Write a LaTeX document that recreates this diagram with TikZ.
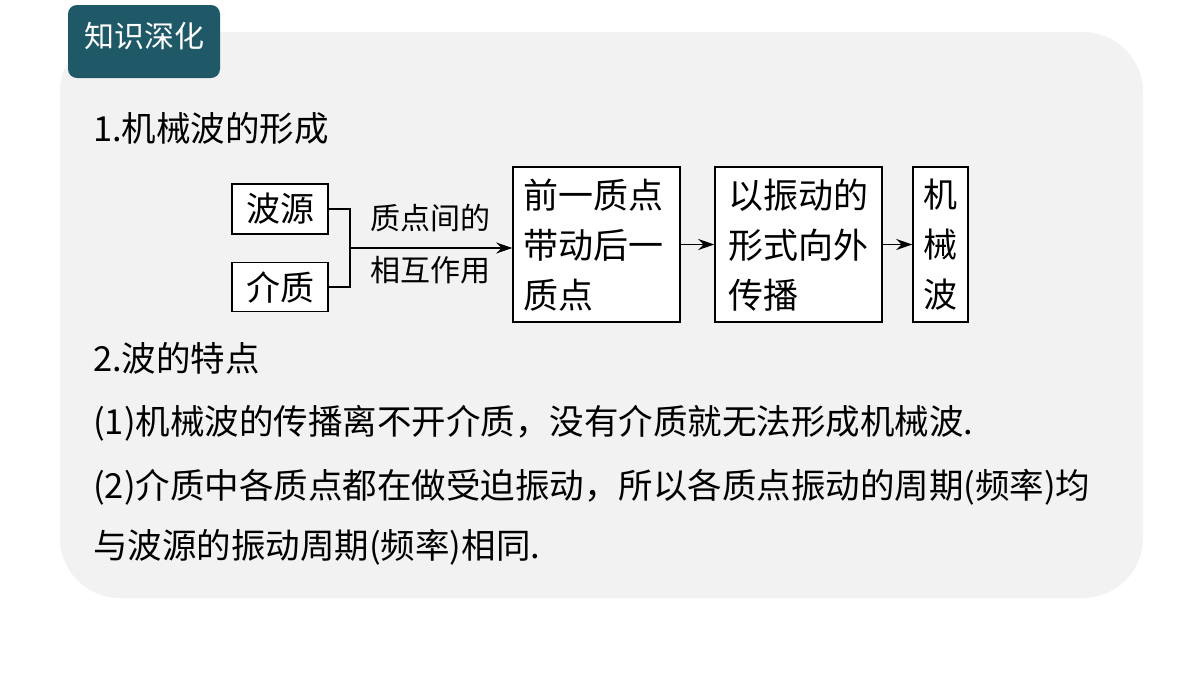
\documentclass[tikz,border=0pt]{standalone}
\usepackage{fontspec}
\setmainfont{Liberation Serif}
\newfontfamily\cjk{Noto Sans CJK SC}
\usetikzlibrary{arrows.meta}
\definecolor{bg}{HTML}{F2F2F2}
\definecolor{tab}{HTML}{1F5866}
\tikzset{
 bx/.style={draw,line width=1.5pt,fill=white,inner sep=0pt},
 txt/.style={anchor=west,inner sep=0pt,font=\fontsize{34.5}{40}\selectfont\cjk},
 big/.style={font=\fontsize{34}{40}\selectfont\cjk},
 arr/.style={-{Stealth[length=16pt,width=11pt]},line width=1.5pt},
 ln/.style={line width=1.5pt}
}
\begin{document}
\begin{tikzpicture}[x=1pt,y=-1pt]
\useasboundingbox (0,0) rectangle (1200,675);
\fill[white] (0,0) rectangle (1200,675);
\fill[bg,rounded corners=60pt] (60,32) rectangle (1143,598);
\fill[tab,rounded corners=9pt] (68,5) rectangle (220,78);
\node[white,font=\fontsize{30}{36}\selectfont\cjk] (t) at (144,36) {知识深化};
\node[txt] (h1) at (93,128) {1.机械波的形成};
\node[bx,big,minimum width=96pt,minimum height=50pt] (a) at (280,209) {波源};
\node[bx,big,minimum width=96pt,minimum height=49pt] (b) at (280,287) {介质};
\node[bx,minimum width=167pt,minimum height=155pt] (c) at (596.5,244.5) {};
\node[bx,minimum width=167pt,minimum height=155pt] (d) at (798.5,244.5) {};
\node[bx,minimum width=55pt,minimum height=155pt] (e) at (940.5,244.5) {};
\node[txt,font=\fontsize{35}{40}\selectfont\cjk] at (523,195) {前一质点};
\node[txt,font=\fontsize{35}{40}\selectfont\cjk] at (523,245) {带动后一};
\node[txt,font=\fontsize{35}{40}\selectfont\cjk] at (523,295) {质点};
\node[txt,font=\fontsize{35}{40}\selectfont\cjk] at (728,195) {以振动的};
\node[txt,font=\fontsize{35}{40}\selectfont\cjk] at (728,245) {形式向外};
\node[txt,font=\fontsize{35}{40}\selectfont\cjk] at (728,295) {传播};
\node[big] at (940.5,195) {机};
\node[big] at (940.5,245) {械};
\node[big] at (940.5,295) {波};
\coordinate (j) at (350,248);
\draw[ln] (a.east) -| (350,287) -- (b.east);
\draw[arr] (j) -- (j -| c.west);
\node[font=\fontsize{30}{36}\selectfont\cjk] at (430,218) {质点间的};
\node[font=\fontsize{30}{36}\selectfont\cjk] at (430,270) {相互作用};
\draw[arr] (c.east) -- (d.west);
\draw[arr] (d.east) -- (e.west);
\node[txt] at (93,358) {2.波的特点};
\node[txt] at (93,423) {(1)机械波的传播离不开介质，没有介质就无法形成机械波.};
\node[txt] at (93,487) {(2)介质中各质点都在做受迫振动，所以各质点振动的周期(频率)均};
\node[txt] at (93,547) {与波源的振动周期(频率)相同.};
\end{tikzpicture}
\end{document}
